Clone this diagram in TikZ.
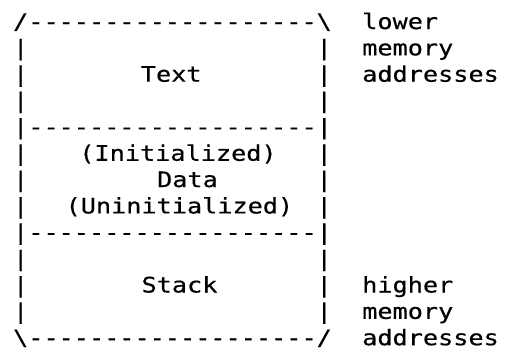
\documentclass[tikz,border=0pt]{standalone}
\usepackage{fontspec}
% monospaced face, widened so one cell is 15.18pt wide, with slightly heavier strokes
\setmonofont[FakeStretch=1.178,FakeBold=0.4]{DejaVu Sans Mono}
\begin{document}
\begin{tikzpicture}[x=1pt,y=-1pt,
  ch/.style={font=\ttfamily\fontsize{21.4}{21.4}\selectfont, inner sep=0pt, anchor=base west},
  lab/.style={font=\ttfamily\fontsize{21.4}{21.4}\selectfont, inner sep=0pt, anchor=base}]
\useasboundingbox[fill=white] (0,0) rectangle (508,351);
% grid: left edge, cell width, first baseline, row height
\def\ox{12.9}\def\cw{15.18}\def\oy{29}\def\rh{26.35}
% frame rows
\node[ch] (top)  at (\ox,{\oy+0*\rh})  {/-------------------\textbackslash};
\node[ch] (sepa) at (\ox,{\oy+4*\rh})  {|-------------------|};
\node[ch] (sepb) at (\ox,{\oy+8*\rh})  {|-------------------|};
\node[ch] (bot)  at (\ox,{\oy+12*\rh}) {\textbackslash-------------------/};
% side walls
\foreach \r in {1,2,3,5,6,7,9,10,11}{
  \node[ch] (wl\r) at (\ox,{\oy+\r*\rh}) {|};
  \node[ch] (wr\r) at ({\ox+20*\cw},{\oy+\r*\rh}) {|};
}
% segment labels
\node[lab] (text)  at (171.2,{\oy+2*\rh})  {Text};
\node[lab] (init)  at (178.0,{\oy+5*\rh})  {(Initialized)};
\node[lab] (data)  at (187.5,{\oy+6*\rh})  {Data};
\node[lab] (uninit) at (179.4,{\oy+7*\rh}) {(Uninitialized)};
\node[lab] (stack) at (179.5,{\oy+10*\rh}) {Stack};
% address notes
\foreach \r/\t [count=\i] in {0/lower,1/memory,2/addresses,10/higher,11/memory,12/addresses}{
  \node[ch] (note\i) at ({\ox+23*\cw},{\oy+\r*\rh}) {\t};
}
\end{tikzpicture}
\end{document}
